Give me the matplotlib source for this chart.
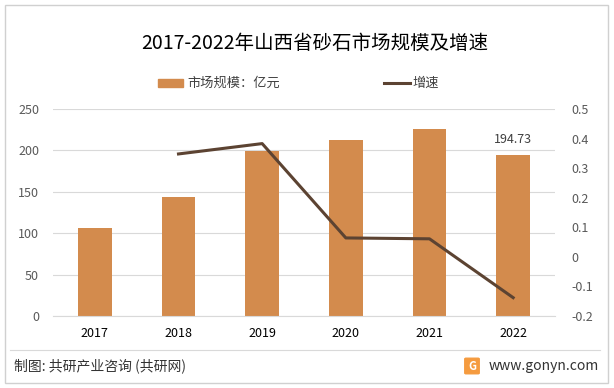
import matplotlib.pyplot as plt
from matplotlib.patches import Rectangle, FancyBboxPatch
from matplotlib.lines import Line2D

plt.rcParams['font.family'] = ['Noto Sans CJK SC', 'DejaVu Sans']

# data
years = ['2017', '2018', '2019', '2020', '2021', '2022']
market_size = [106.0, 143.8, 199.2, 212.5, 225.9, 194.73]
growth_years = ['2018', '2019', '2020', '2021', '2022']
growth = [0.348, 0.383, 0.064, 0.061, -0.138]

bar_color = '#D38B4D'
line_color = '#5C4332'
grid_color = '#D9D9D9'
text_color = '#404040'

fig = plt.figure(figsize=(6.14, 3.88), dpi=100)

# outer frame
fig.patches.append(Rectangle((5 / 614, 5 / 388), 603 / 614, 378 / 388, transform=fig.transFigure,
                             fill=False, edgecolor='#D0D0D0', linewidth=1.0))

ax = fig.add_axes([53 / 614, 1 - 316 / 388, 502 / 614, 207 / 388])
x = list(range(len(years)))
ax.bar(x, market_size, width=0.4, color=bar_color, zorder=2)
ax.set_ylim(0, 250)
ax.set_yticks([0, 50, 100, 150, 200, 250])
ax.set_xlim(-0.5, len(years) - 0.5)
ax.set_xticks(x)
ax.set_xticklabels(years, fontsize=9, color='black')
ax.tick_params(axis='y', labelsize=9, colors='#595959', length=0, pad=10)
ax.tick_params(axis='x', length=0, pad=8)
ax.grid(axis='y', color=grid_color, linewidth=0.8, zorder=0)
for s in ax.spines.values():
    s.set_visible(False)
ax.spines['bottom'].set_visible(True)
ax.spines['bottom'].set_color(grid_color)

ax.annotate(f'{market_size[-1]:.2f}', (x[-1], market_size[-1]), xytext=(0, 6),
            textcoords='offset points', ha='center', va='bottom', fontsize=9, color=text_color)

ax2 = ax.twinx()
gx = [years.index(y) for y in growth_years]
ax2.plot(gx, growth, color=line_color, linewidth=2.2, zorder=3)
ax2.set_ylim(-0.2, 0.5)
ax2.set_yticks([-0.2, -0.1, 0, 0.1, 0.2, 0.3, 0.4, 0.5])
ax2.set_yticklabels(['-0.2', '-0.1', '0', '0.1', '0.2', '0.3', '0.4', '0.5'])
ax2.tick_params(axis='y', labelsize=9, colors='#595959', length=0, pad=12)
for s in ax2.spines.values():
    s.set_visible(False)

fig.text(315 / 614, 1 - 43 / 388, '2017-2022年山西省砂石市场规模及增速', ha='center', va='center',
         fontsize=14, color='black')

# legend
fig.patches.append(Rectangle((158 / 614, 1 - 87 / 388), 25 / 614, 8 / 388,
                             transform=fig.transFigure, color=bar_color))
fig.text(187 / 614, 1 - 83 / 388, '市场规模：亿元', ha='left', va='center', fontsize=9.5, color=text_color)
fig.lines.append(Line2D([384 / 614, 410 / 614], [1 - 83 / 388, 1 - 83 / 388],
                        transform=fig.transFigure, color=line_color, linewidth=2.2))
fig.text(412 / 614, 1 - 83 / 388, '增速', ha='left', va='center', fontsize=9.5, color=text_color)

# footer
fig.lines.append(Line2D([10 / 614, 600 / 614], [1 - 350 / 388, 1 - 350 / 388],
                        transform=fig.transFigure, color='#D9D9D9', linewidth=0.8))
fig.text(14 / 614, 1 - 366 / 388, '制图: 共研产业咨询 (共研网)', ha='left', va='center',
         fontsize=10, color='#333333')
fig.patches.append(FancyBboxPatch((466 / 614, 1 - 373 / 388), 12 / 614, 14 / 388,
                                  boxstyle='round,pad=0.002', transform=fig.transFigure,
                                  color='#F59B3F'))
fig.text(472 / 614, 1 - 366 / 388, 'G', ha='center', va='center', fontsize=8,
         color='white', fontweight='bold')
fig.text(599 / 614, 1 - 366 / 388, 'www.gonyn.com', ha='right', va='center',
         fontsize=10, color='#333333')

fig.savefig('out.png', dpi=100)
